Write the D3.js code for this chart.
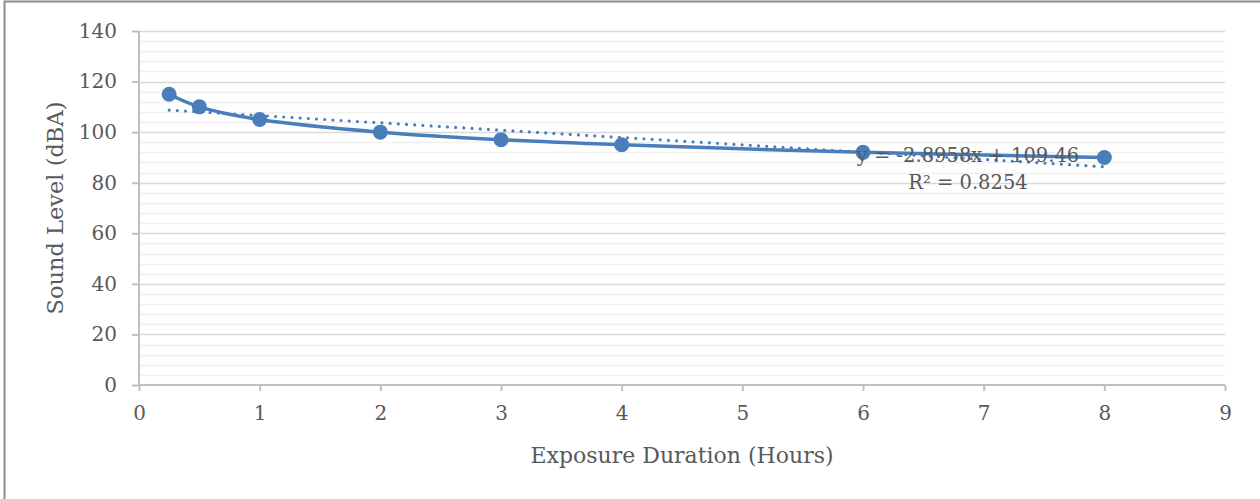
<!DOCTYPE html>
<html>
<head>
<meta charset="utf-8">
<script src="https://cdn.jsdelivr.net/npm/d3@7"></script>
<style>
  body { margin: 0; background: #fff; }
  text { font-family: "DejaVu Serif", serif; fill: #595959; }
</style>
</head>
<body>
<div class="chart"></div>
<script>
// data
const hours = [0.25, 0.5, 1, 2, 3, 4, 6, 8];
const soundLevels = [115, 110, 105, 100, 97, 95, 92, 90];
const xTicks = [0, 1, 2, 3, 4, 5, 6, 7, 8, 9];
const yTicks = [0, 20, 40, 60, 80, 100, 120, 140];
const yMinorTicks = d3.range(0, 141, 4);

let margin = { top: 31, right: 35, bottom: 114, left: 139 },
  width = 1260 - margin.left - margin.right,
  height = 499 - margin.top - margin.bottom;

let root = d3
  .select(".chart")
  .append("svg")
  .attr("width", 1260)
  .attr("height", 499);

// chart frame
root
  .append("rect")
  .attr("x", 4.5)
  .attr("y", 1.5)
  .attr("width", 1270)
  .attr("height", 520)
  .attr("fill", "none")
  .attr("stroke", "#8c8c8c")
  .attr("stroke-width", 2);

let svg = root
  .append("g")
  .attr("transform", "translate(" + margin.left + "," + margin.top + ")");

let x = d3.scaleLinear().domain([0, 9]).range([0, width]);
let y = d3.scaleLinear().domain([0, 140]).range([height, 0]);

// minor gridlines
svg
  .selectAll(".minor")
  .data(yMinorTicks.filter((d) => d % 20 !== 0))
  .enter()
  .append("line")
  .attr("class", "minor")
  .attr("x1", 0)
  .attr("x2", width)
  .attr("y1", (d) => Math.round(y(d)) + 0.5)
  .attr("y2", (d) => Math.round(y(d)) + 0.5)
  .attr("stroke", "#f0f0f0")
  .attr("stroke-width", 1.5);

// major gridlines
svg
  .selectAll(".major")
  .data(yTicks.filter((d) => d > 0))
  .enter()
  .append("line")
  .attr("class", "major")
  .attr("x1", 0)
  .attr("x2", width)
  .attr("y1", (d) => Math.round(y(d)) + 0.5)
  .attr("y2", (d) => Math.round(y(d)) + 0.5)
  .attr("stroke", "#d9d9d9")
  .attr("stroke-width", 1.5);

// AXIS
const xAxis = d3.axisBottom(x).tickValues(xTicks).tickSize(6).tickPadding(15);
const yAxis = d3.axisLeft(y).tickValues(yTicks).tickSize(7).tickPadding(15);

const xAxisGroup = svg
  .append("g")
  .attr("class", "axis x-axis")
  .attr("transform", "translate(0," + height + ")")
  .call(xAxis);

const yAxisGroup = svg.append("g").attr("class", "axis y-axis").call(yAxis);

[xAxisGroup, yAxisGroup].forEach((g) => {
  g.selectAll("path, line").attr("stroke", "#bfbfbf").attr("stroke-width", 2);
  g.selectAll("text")
    .attr("font-family", "DejaVu Serif")
    .attr("font-size", 20)
    .attr("fill", "#595959");
});
yAxisGroup.select(".domain").attr("d", "M0," + height + "V0");
xAxisGroup.select(".domain").attr("d", "M0,0H" + width);

// axis titles
svg
  .append("text")
  .attr("x", width / 2)
  .attr("y", height + 78)
  .attr("text-anchor", "middle")
  .attr("font-size", 22)
  .text("Exposure Duration (Hours)");

svg
  .append("text")
  .attr("transform", "translate(-76," + height / 2 + ") rotate(-90)")
  .attr("text-anchor", "middle")
  .attr("font-size", 22.5)
  .text("Sound Level (dBA)");

// linear trendline (least squares)
const points = hours.map((h, i) => [h, soundLevels[i]]);
const mx = d3.mean(hours),
  my = d3.mean(soundLevels);
const sxy = d3.sum(points, (p) => (p[0] - mx) * (p[1] - my));
const sxx = d3.sum(hours, (h) => (h - mx) * (h - mx));
const syy = d3.sum(soundLevels, (v) => (v - my) * (v - my));
const slope = sxy / sxx;
const intercept = my - slope * mx;
const r2 = (sxy * sxy) / (sxx * syy);

const trendX = d3.extent(hours);
svg
  .append("path")
  .datum(trendX.map((h) => [h, slope * h + intercept]))
  .attr("fill", "none")
  .attr("stroke", "#4a7ebb")
  .attr("stroke-width", 3.2)
  .attr("stroke-linecap", "round")
  .attr("stroke-dasharray", "0,8.2")
  .attr(
    "d",
    d3
      .line()
      .x((d) => x(d[0]))
      .y((d) => y(d[1]))
  );

// data line
svg
  .append("path")
  .datum(points)
  .attr("fill", "none")
  .attr("stroke", "#4a7ebb")
  .attr("stroke-width", 3.5)
  .attr(
    "d",
    d3
      .line()
      .curve(d3.curveCatmullRom.alpha(0.5))
      .x((d) => x(d[0]))
      .y((d) => y(d[1]))
  );

svg
  .selectAll(".dot")
  .data(points)
  .enter()
  .append("circle")
  .attr("class", "dot")
  .attr("cx", (d) => x(d[0]))
  .attr("cy", (d) => y(d[1]))
  .attr("r", 7.5)
  .attr("fill", "#4a7ebb");

// trendline label
const label = svg.append("text").attr("text-anchor", "middle").attr("font-size", 19.5);
label
  .append("tspan")
  .attr("x", 829)
  .attr("y", 131)
  .text("y = " + slope.toFixed(4) + "x + " + intercept.toFixed(2));
label
  .append("tspan")
  .attr("x", 829)
  .attr("y", 158)
  .text("R² = " + r2.toFixed(4));
</script>
</body>
</html>
